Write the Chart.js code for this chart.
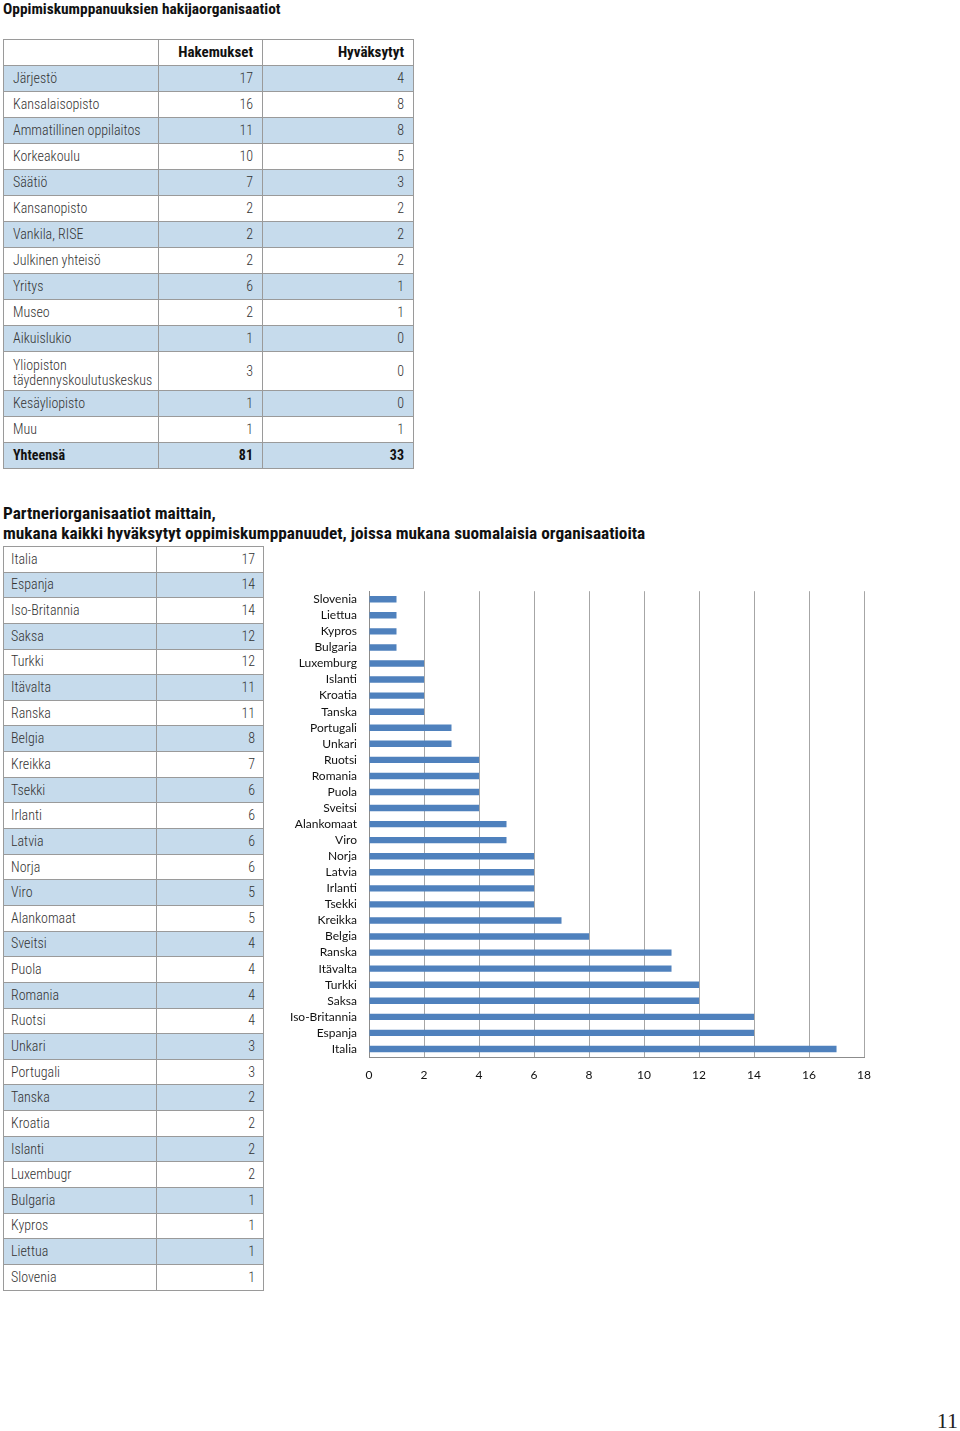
<!DOCTYPE html>
<html>
<head>
<meta charset="utf-8">
<script src="https://cdn.jsdelivr.net/npm/chart.js@4/dist/chart.umd.min.js"></script>
<style>
  html, body { margin:0; padding:0; background:#fff; }
  body { width:960px; height:1431px; position:relative; overflow:hidden;
         font-family:"Roboto Condensed","Liberation Sans Narrow","Liberation Sans",sans-serif; color:#333; }
  .title { position:absolute; left:3px; font-weight:bold; color:#111; font-family:"Roboto Condensed","Liberation Sans Narrow","Liberation Sans",sans-serif; white-space:nowrap; }
  table { position:absolute; border-collapse:collapse; font-size:14px; table-layout:fixed; font-weight:300; }
  td { border:1px solid #9a9a9a; padding:0 9px; height:26px; box-sizing:border-box; line-height:15px; overflow:hidden; white-space:nowrap; }
  td.num { text-align:right; }
  tr.shade td { background:#c6dbec; }
  tr.bold td { font-weight:bold; color:#111; }
  tr.hdr td { font-size:15px; }
  #wrap { position:absolute; left:285px; top:572px; width:597px; height:518px; }
  .pageno { position:absolute; right:2px; top:1408px; font-family:"Liberation Serif",serif; font-size:22px; color:#222; }
</style>
</head>
<body>
<div class="title" style="top:0px;font-size:15.4px;">Oppimiskumppanuuksien hakijaorganisaatiot</div>
<table id="t1" style="left:3px;top:39px;width:410px;"><colgroup><col style="width:155px"><col style="width:104px"><col style="width:151px"></colgroup><tbody id="t1b"></tbody></table>
<div class="title" style="top:503px;font-size:17.3px;line-height:20px;">Partneriorganisaatiot maittain,<br>mukana kaikki hyväksytyt oppimiskumppanuudet, joissa mukana suomalaisia organisaatioita</div>
<table id="t2" style="left:3px;top:546px;width:260px;"><colgroup><col style="width:153px"><col style="width:107px"></colgroup><tbody id="t2b"></tbody></table>
<div id="wrap"><canvas id="c" width="597" height="518"></canvas></div>
<div class="pageno">11</div>
<script>
const orgHeaders = ["", "Hakemukset", "Hyväksytyt"];
const orgNames = ["Järjestö","Kansalaisopisto","Ammatillinen oppilaitos","Korkeakoulu","Säätiö","Kansanopisto","Vankila, RISE","Julkinen yhteisö","Yritys","Museo","Aikuislukio","Yliopiston<br>täydennyskoulutuskeskus","Kesäyliopisto","Muu"];
const orgApplied = [17,16,11,10,7,2,2,2,6,2,1,3,1,1];
const orgAccepted = [4,8,8,5,3,2,2,2,1,1,0,0,0,1];
const orgTotalLabel = "Yhteensä";
const orgTotalApplied = 81;
const orgTotalAccepted = 33;

const tableCountries = ["Italia","Espanja","Iso-Britannia","Saksa","Turkki","Itävalta","Ranska","Belgia","Kreikka","Tsekki","Irlanti","Latvia","Norja","Viro","Alankomaat","Sveitsi","Puola","Romania","Ruotsi","Unkari","Portugali","Tanska","Kroatia","Islanti","Luxembugr","Bulgaria","Kypros","Liettua","Slovenia"];
const tableCounts = [17,14,14,12,12,11,11,8,7,6,6,6,6,5,5,4,4,4,4,3,3,2,2,2,2,1,1,1,1];

const chartLabels = ["Slovenia","Liettua","Kypros","Bulgaria","Luxemburg","Islanti","Kroatia","Tanska","Portugali","Unkari","Ruotsi","Romania","Puola","Sveitsi","Alankomaat","Viro","Norja","Latvia","Irlanti","Tsekki","Kreikka","Belgia","Ranska","Itävalta","Turkki","Saksa","Iso-Britannia","Espanja","Italia"];
const chartValues = [1,1,1,1,2,2,2,2,3,3,4,4,4,4,5,5,6,6,6,6,7,8,11,11,12,12,14,14,17];
const xTicks = [0,2,4,6,8,10,12,14,16,18];

// Table 1
let h = '<tr class="bold hdr"><td></td><td class="num">'+orgHeaders[1]+'</td><td class="num">'+orgHeaders[2]+'</td></tr>';
orgNames.forEach((n,i)=>{
  const tall = n.indexOf('<br>')>=0 ? ' style="height:39px;padding-top:3px"' : '';
  h += '<tr class="'+(i%2===0?'shade':'')+'"><td'+tall+'>'+n+'</td><td class="num">'+orgApplied[i]+'</td><td class="num">'+orgAccepted[i]+'</td></tr>';
});
h += '<tr class="shade bold"><td>'+orgTotalLabel+'</td><td class="num">'+orgTotalApplied+'</td><td class="num">'+orgTotalAccepted+'</td></tr>';
document.getElementById('t1b').innerHTML = h;

// Table 2
let h2 = '';
tableCountries.forEach((n,i)=>{
  h2 += '<tr class="'+(i%2===1?'shade':'')+'"><td style="height:25.65px;padding-left:7px">'+n+'</td><td class="num" style="height:25.65px;padding-right:8px">'+tableCounts[i]+'</td></tr>';
});
document.getElementById('t2b').innerHTML = h2;

// Chart
new Chart(document.getElementById('c'), {
  type: 'bar',
  data: {
    labels: chartLabels,
    datasets: [{
      data: chartValues,
      backgroundColor: '#4f81bd',
      borderWidth: 0,
      barPercentage: 0.4,
      categoryPercentage: 1.0
    }]
  },
  options: {
    indexAxis: 'y',
    responsive: false,
    animation: false,
    devicePixelRatio: 1,
    layout: { autoPadding: false, padding: { top: 6, right: 11, left: 0, bottom: 0 } },
    plugins: { legend: { display: false }, tooltip: { enabled: false } },
    scales: {
      x: {
        min: 0, max: 18,
        afterBuildTicks: (s) => { s.ticks = xTicks.map(v => ({ value: v })); },
        afterFit: (s) => { s.height = 33; },
        grid: { color: '#a6a6a6', lineWidth: 1, drawTicks: false },
        border: { color: '#8c8c8c', display: true },
        ticks: { color: '#111', font: { family: 'Lato, "Open Sans", sans-serif', size: 12 }, padding: 11, autoSkip: false, maxRotation: 0 }
      },
      y: {
        afterFit: (s) => { s.width = 84; },
        grid: { display: false, drawTicks: false },
        border: { color: '#8c8c8c', display: true },
        ticks: { color: '#111', font: { family: 'Lato, "Open Sans", sans-serif', size: 12 }, padding: 12, autoSkip: false }
      }
    }
  }
});
</script>
</body>
</html>
